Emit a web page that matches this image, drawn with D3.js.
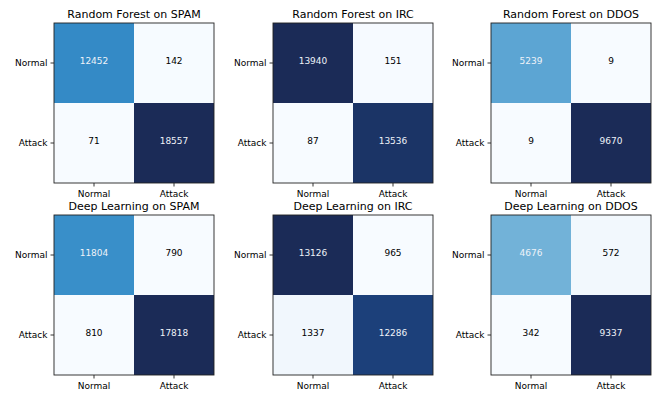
<!DOCTYPE html>
<html>
<head>
<meta charset="utf-8">
<script src="https://d3js.org/d3.v7.min.js"></script>
<style>
  body { margin: 0; background: #fff; }
  text { font-family: "DejaVu Sans", sans-serif; }
</style>
</head>
<body>
<div id="chart-area"></div>
<script>
// class labels
const classes = ['Normal', 'Attack'];
// panel titles
const titles = [
  'Random Forest on SPAM', 'Random Forest on IRC', 'Random Forest on DDOS',
  'Deep Learning on SPAM', 'Deep Learning on IRC', 'Deep Learning on DDOS'
];
// confusion matrices, rows = true label, cols = predicted
const rfSpam = [[12452, 142], [71, 18557]];
const rfIrc = [[13940, 151], [87, 13536]];
const rfDdos = [[5239, 9], [9, 9670]];
const dlSpam = [[11804, 790], [810, 17818]];
const dlIrc = [[13126, 965], [1337, 12286]];
const dlDdos = [[4676, 572], [342, 9337]];
const matrices = [rfSpam, rfIrc, rfDdos, dlSpam, dlIrc, dlDdos];

// matplotlib "Blues" (dark end tuned to the picture)
const blues = ['#f7fbff', '#deebf7', '#c6dbef', '#9ecae1', '#6baed6',
  '#3f94cc', '#1f78bc', '#1c5196', '#1b2b57'];

const W = 654, H = 394;
const colX = [54, 273, 491];
const rowY = [23, 215];
const size = 160;

const svg = d3.select('#chart-area')
  .append('svg')
  .attr('width', W)
  .attr('height', H);

const drawMatrix = (cm, title, i) => {
  const g = svg.append('g')
    .attr('transform', `translate(${colX[i % 3]}, ${rowY[Math.floor(i / 3)]})`);
  const flat = cm.flat();
  const lo = d3.min(flat), hi = d3.max(flat);
  const color = d3.scaleLinear()
    .domain(d3.range(blues.length).map(k => lo + (hi - lo) * k / (blues.length - 1)))
    .range(blues)
    .interpolate(d3.interpolateRgb);
  const x = d3.scaleBand().domain(classes).range([0, size]);
  const y = d3.scaleBand().domain(classes).range([0, size]);
  const cells = [];
  cm.forEach((row, r) => row.forEach((v, c) => cells.push({ r, c, v })));

  g.selectAll('rect.cell')
    .data(cells)
    .enter()
    .append('rect')
    .attr('class', 'cell')
    .attr('x', d => x(classes[d.c]))
    .attr('y', d => y(classes[d.r]))
    .attr('width', x.bandwidth())
    .attr('height', y.bandwidth())
    .attr('fill', d => color(d.v));

  g.selectAll('text.val')
    .data(cells)
    .enter()
    .append('text')
    .attr('class', 'val')
    .attr('x', d => x(classes[d.c]) + x.bandwidth() / 2)
    .attr('y', d => y(classes[d.r]) + y.bandwidth() / 2)
    .attr('dy', '0.1em')
    .attr('text-anchor', 'middle')
    .attr('font-size', '9px')
    .attr('fill', d => d.v > hi / 2 ? '#eef2f8' : '#000')
    .text(d => d.v);

  // axes
  const xAxis = g.append('g')
    .attr('transform', `translate(0, ${size})`)
    .call(d3.axisBottom(x).tickSize(3.5).tickPadding(4));
  const yAxis = g.append('g')
    .call(d3.axisLeft(y).tickSize(3.5).tickPadding(3));
  [xAxis, yAxis].forEach(a => {
    a.select('.domain').remove();
    a.selectAll('text').attr('font-size', '9px').attr('font-family', '"DejaVu Sans", sans-serif').attr('fill', '#000');
    a.selectAll('line').attr('stroke', '#000').attr('stroke-width', 0.8);
  });

  g.append('rect')
    .attr('width', size)
    .attr('height', size)
    .attr('fill', 'none')
    .attr('stroke', '#222')
    .attr('stroke-width', 0.9);

  g.append('text')
    .attr('x', size / 2)
    .attr('y', -5)
    .attr('text-anchor', 'middle')
    .attr('font-size', '11px')
    .attr('fill', '#000')
    .text(title);
};

matrices.forEach((cm, i) => drawMatrix(cm, titles[i], i));
</script>
</body>
</html>
